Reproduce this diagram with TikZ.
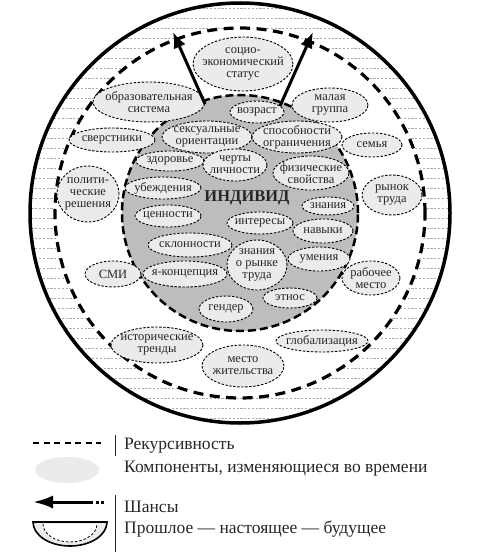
\documentclass[tikz,border=0pt]{standalone}
\usepackage{fontspec}
\setmainfont{Liberation Serif}
\usetikzlibrary{arrows.meta}
\definecolor{compgray}{gray}{0.92}
\definecolor{indgray}{gray}{0.74}
\definecolor{txtgray}{gray}{0.15}
\tikzset{
  comp/.style={fill=compgray, draw=black, line width=0.9pt, dash pattern=on 2.4pt off 1.6pt},
  comptext/.style={font=\fontsize{12.5}{12.2}\selectfont, align=center, inner sep=0pt, text=txtgray},
  hatch/.style={draw=gray!65, line width=0.55pt, dash pattern=on 2.2pt off 1.6pt},
  outerring/.style={draw=black, line width=3.5pt},
  recur/.style={draw=black, line width=3.2pt, dash pattern=on 10pt off 6.5pt},
  indiv/.style={fill=indgray, draw=black, line width=2.5pt, dash pattern=on 8pt off 4pt},
  chance/.style={draw=black, line width=3pt, -{Latex[length=16pt,width=13pt]}},
  legtext/.style={font=\fontsize{17.5}{19}\selectfont, anchor=west, inner sep=0pt, text=txtgray},
  legbar/.style={draw=txtgray, line width=1pt},
}
\newcommand\mycomp[6]{%
  \path[comp] (#2,#3) ellipse [x radius=#4pt, y radius=#5pt];
  \node[comptext] (#1) at (#2,#3) {#6};}
\begin{document}
\begin{tikzpicture}[x=1pt,y=-1pt]
\useasboundingbox (0,0) rectangle (479,556);
% hatching in the ring
\begin{scope}[even odd rule]
  \clip (240,213) circle [radius=210pt] (240,213) circle [radius=185pt];
  \foreach \yy in {8,18,...,418} \draw[hatch] (20,\yy) -- (460,\yy);
\end{scope}
\draw[outerring] (240,213) circle [radius=210pt];
\draw[recur] (240,213) circle [radius=185pt];
\draw[indiv] (240,213) circle [radius=118pt];
% components
\mycomp{socio}{243}{64}{50}{27}{социо-\\экономический\\статус}
\mycomp{obraz}{149}{102}{56}{20}{образовательная\\система}
\mycomp{vozrast}{257}{112}{27}{11}{возраст}
\mycomp{malaya}{330}{105}{38}{17}{малая\\группа}
\mycomp{sverst}{112}{140}{43}{12}{сверстники}
\mycomp{seks}{207}{137}{45}{16}{сексуальные\\ориентации}
\mycomp{spos}{297}{137}{45}{16}{способности\\ограничения}
\mycomp{semya}{372}{145}{30}{12}{семья}
\mycomp{zdor}{170}{161}{34}{10}{здоровье}
\mycomp{cherty}{235}{165}{32}{16}{черты\\личности}
\mycomp{fiz}{311}{173}{38}{17}{физические\\свойства}
\mycomp{polit}{88}{194}{31}{28}{полити-\\ческие\\решения}
\mycomp{rynok}{392}{195}{30}{20}{рынок\\труда}
\mycomp{ubezh}{163}{188}{38}{11}{убеждения}
\mycomp{znaniya}{328}{206}{26}{9}{знания}
\mycomp{tsen}{168}{216}{33}{11}{ценности}
\mycomp{inter}{260}{223}{33}{11}{интересы}
\mycomp{navyki}{323}{231}{30}{12}{навыки}
\mycomp{sklon}{190}{245}{42}{12}{склонности}
\mycomp{znrt}{257}{265}{30}{25}{знания\\о рынке\\труда}
\mycomp{umeniya}{319}{259}{31}{12}{умения}
\mycomp{smi}{113}{274}{28}{13}{СМИ}
\mycomp{yakon}{185}{274}{42}{13}{я-концепция}
\mycomp{rabochee}{371}{278}{29}{17}{рабочее\\место}
\mycomp{etnos}{290}{298}{27}{10}{этнос}
\mycomp{gender}{226}{309}{27}{13}{гендер}
\mycomp{istor}{157}{345}{46}{18}{исторические\\тренды}
\mycomp{glob}{322}{341}{46}{11}{глобализация}
\mycomp{mesto}{243}{366}{41}{21}{место\\жительства}
\node[font=\fontsize{16.5}{16.5}\bfseries, inner sep=0pt, text=txtgray] (indiv) at (247,198) {ИНДИВИД};
% chances arrows
\coordinate (arL0) at (205,104);
\coordinate (arL1) at (173,32);
\coordinate (arR0) at (280,106);
\coordinate (arR1) at (313,32);
\draw[chance] (arL0) -- (arL1);
\draw[chance] (arR0) -- (arR1);
% legend
\coordinate (lgA0) at (33,443);
\coordinate (lgA1) at (101,443);
\draw[draw=black, line width=1.3pt, dash pattern=on 6pt off 4.5pt] (lgA0) -- (lgA1);
\coordinate (bar1a) at (115,435);
\coordinate (bar1b) at (115,456);
\draw[legbar] (bar1a) -- (bar1b);
\node[legtext] (lt1) at (124,446) {Рекурсивность};
\path[fill=compgray] (67,470) ellipse [x radius=32pt, y radius=13pt];
\node[legtext] (lt2) at (124,469) {Компоненты, изменяющиеся во времени};
\coordinate (lgC0) at (93,502);
\coordinate (lgC1) at (33,502);
\draw[draw=black, line width=3pt, -{Latex[length=20pt,width=13pt]}] (lgC0) -- (lgC1);
\fill[black] (95.5,500.5) rectangle (98.5,503.5);
\fill[black] (100.5,500.5) rectangle (103.5,503.5);
\coordinate (bar2a) at (115,495);
\coordinate (bar2b) at (115,552);
\draw[legbar] (bar2a) -- (bar2b);
\node[legtext] (lt3) at (124,507) {Шансы};
\fill[compgray] (33,522) arc [start angle=180, end angle=360, x radius=37pt, y radius=24pt] -- cycle;
\fill[white] (43,524) arc [start angle=180, end angle=360, x radius=27pt, y radius=18pt] -- cycle;
\draw[black, line width=0.8pt, dash pattern=on 2.5pt off 2pt] (43,524) arc [start angle=180, end angle=360, x radius=27pt, y radius=18pt];
\draw[black, line width=1.6pt] (33,522) arc [start angle=180, end angle=360, x radius=37pt, y radius=24pt] -- cycle;
\node[legtext] (lt4) at (124,529) {Прошлое — настоящее — будущее};
\end{tikzpicture}
\end{document}
